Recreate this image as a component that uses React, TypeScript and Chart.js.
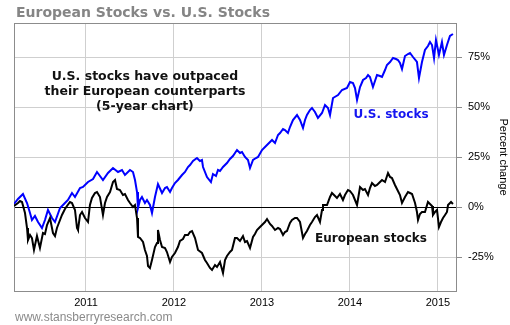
import React, { useEffect, useRef } from "react";
import { Chart, registerables } from "chart.js";

Chart.register(...registerables);

const chartTitle = "European Stocks vs. U.S. Stocks";
const noteLines = ["U.S. stocks have outpaced", "their European counterparts", "(5-year chart)"];
const sourceText = "www.stansberryresearch.com";
const yAxisTitle = "Percent change";
const yearTicks = [2011, 2012, 2013, 2014, 2015];
const pctTicks = [-25, 0, 25, 50, 75];

const usYears = [
  2010.182, 2010.227, 2010.284, 2010.33, 2010.364, 2010.386, 2010.42, 2010.455, 2010.5, 2010.534,
  2010.568, 2010.614, 2010.648, 2010.705, 2010.761, 2010.795, 2010.841, 2010.875, 2010.932, 2010.966,
  2011.023, 2011.08, 2011.125, 2011.159, 2011.193, 2011.25, 2011.307, 2011.364, 2011.409, 2011.443,
  2011.5, 2011.534, 2011.557, 2011.58, 2011.591, 2011.614, 2011.636, 2011.67, 2011.693, 2011.727,
  2011.75, 2011.784, 2011.818, 2011.864, 2011.898, 2011.92, 2011.955, 2011.977, 2012.011, 2012.045,
  2012.091, 2012.125, 2012.159, 2012.182, 2012.216, 2012.261, 2012.295, 2012.318, 2012.33, 2012.375,
  2012.42, 2012.443, 2012.477, 2012.5, 2012.523, 2012.557, 2012.602, 2012.636, 2012.67, 2012.716,
  2012.75, 2012.773, 2012.807, 2012.841, 2012.864, 2012.898, 2012.932, 2012.955, 2013.0, 2013.057,
  2013.091, 2013.114, 2013.148, 2013.182, 2013.205, 2013.239, 2013.261, 2013.295, 2013.318, 2013.352,
  2013.398, 2013.432, 2013.466, 2013.489, 2013.511, 2013.545, 2013.568, 2013.602, 2013.636, 2013.682,
  2013.716, 2013.75, 2013.773, 2013.807, 2013.864, 2013.909, 2013.966, 2014.0, 2014.034, 2014.057,
  2014.08, 2014.114, 2014.148, 2014.182, 2014.205, 2014.227, 2014.261, 2014.307, 2014.341, 2014.364,
  2014.398, 2014.42, 2014.455, 2014.489, 2014.523, 2014.545, 2014.568, 2014.591, 2014.625, 2014.659,
  2014.682, 2014.716, 2014.761, 2014.784, 2014.818, 2014.852, 2014.886, 2014.909, 2014.932, 2014.955,
  2014.977, 2015.0, 2015.011, 2015.045, 2015.068, 2015.102, 2015.136, 2015.17,
];
const usValues = [
  1.5, 4, 6.5, 2, -3, -6.5, -4.5, -7.5, -10.5, -6.5,
  -1.5, -5.5, -7.5, -0.5, 2, 3.5, 7, 5, 9.5, 10,
  12.5, 14, 17.5, 15.5, 13.5, 17, 19.5, 17.5, 18.5, 16,
  18.5, 17.5, 13.5, 7.5, -0.5, 3.5, 5, 2, 3.5, 1,
  -3, 5, 11.5, 7, 9.5, 10, 7.5, 9.5, 12, 13.5,
  16, 17.5, 20, 21, 23, 24.5, 23, 23.5, 20, 15,
  12.5, 16.5, 15.5, 18.5, 18, 20, 22, 24, 25.5, 28.5,
  27, 27.5, 25, 23.5, 19.5, 23.5, 24.5, 25, 28.5, 31,
  32.5, 33.5, 32, 36, 37, 39, 38.5, 37, 40, 43.5,
  46, 43.5, 39.5, 43.5, 46, 48.5, 49.5, 47.5, 44.5, 47,
  51, 49.5, 46, 54.5, 56, 58.5, 59.5, 62.5, 62, 59.5,
  53.5, 60, 63.5, 64.5, 66, 65, 60, 66, 65.5, 65,
  68.5, 71, 72.5, 74.5, 74, 73.5, 72, 69, 75.5, 76.5,
  77, 75, 72.5, 64.5, 72.5, 78.5, 80.5, 82.5, 81, 74.5,
  83.5, 78.5, 76, 82.5, 76, 81, 85.5, 86.5,
];

const euYears = [
  2010.182, 2010.227, 2010.25, 2010.273, 2010.307, 2010.33, 2010.341, 2010.364, 2010.386, 2010.409,
  2010.443, 2010.477, 2010.511, 2010.534, 2010.557, 2010.591, 2010.625, 2010.648, 2010.67, 2010.705,
  2010.727, 2010.761, 2010.784, 2010.818, 2010.841, 2010.875, 2010.898, 2010.909, 2010.932, 2010.955,
  2010.989, 2011.023, 2011.045, 2011.068, 2011.102, 2011.125, 2011.159, 2011.193, 2011.216, 2011.239,
  2011.273, 2011.307, 2011.33, 2011.352, 2011.386, 2011.42, 2011.443, 2011.477, 2011.5, 2011.534,
  2011.557, 2011.58, 2011.591, 2011.614, 2011.648, 2011.67, 2011.693, 2011.705, 2011.727, 2011.75,
  2011.784, 2011.807, 2011.818, 2011.841, 2011.864, 2011.898, 2011.92, 2011.955, 2011.977, 2012.011,
  2012.045, 2012.068, 2012.102, 2012.125, 2012.159, 2012.182, 2012.205, 2012.239, 2012.273, 2012.318,
  2012.352, 2012.375, 2012.409, 2012.432, 2012.466, 2012.489, 2012.523, 2012.557, 2012.58, 2012.602,
  2012.636, 2012.659, 2012.693, 2012.716, 2012.75, 2012.784, 2012.807, 2012.83, 2012.864, 2012.898,
  2012.92, 2012.943, 2012.977, 2013.0, 2013.034, 2013.057, 2013.091, 2013.114, 2013.148, 2013.182,
  2013.205, 2013.239, 2013.261, 2013.284, 2013.318, 2013.341, 2013.375, 2013.398, 2013.432, 2013.466,
  2013.489, 2013.511, 2013.545, 2013.568, 2013.602, 2013.625, 2013.659, 2013.682, 2013.693, 2013.739,
  2013.773, 2013.795, 2013.83, 2013.852, 2013.886, 2013.92, 2013.943, 2013.977, 2014.0, 2014.034,
  2014.057, 2014.08, 2014.114, 2014.148, 2014.17, 2014.205, 2014.227, 2014.25, 2014.284, 2014.307,
  2014.341, 2014.364, 2014.398, 2014.432, 2014.455, 2014.477, 2014.511, 2014.545, 2014.568, 2014.591,
  2014.625, 2014.659, 2014.682, 2014.705, 2014.739, 2014.761, 2014.773, 2014.795, 2014.818, 2014.852,
  2014.886, 2014.909, 2014.932, 2014.943, 2014.966, 2014.989, 2015.011, 2015.034, 2015.057, 2015.08,
  2015.102, 2015.114, 2015.148, 2015.17,
];
const euValues = [
  0.5, 2, 3, 2.5, -3, -10.5, -16.5, -14, -15.5, -21.5,
  -14.5, -20.5, -13, -13.5, -9, -5.5, -13, -14.5, -10.5, -6.5,
  -4, -1, 0.5, 2.5, 2, -1.5, -10.5, -11.5, -4, -2.5,
  -5.5, -7.5, 1, 4.5, 7, 7.5, 5, -4, 2, 5,
  7.5, 12.5, 13.5, 9, 8.5, 6, 6.5, 3.5, 2, 0,
  1, -5.5, -15, -15.5, -17.5, -21.5, -24.5, -29.5, -30.5, -26.5,
  -20, -18, -11.5, -16.5, -20, -20.5, -22.5, -27.5, -25, -23,
  -20, -17, -16, -14, -14, -12.5, -12, -15.5, -21.5, -23,
  -26.5, -28, -30.5, -31.5, -29, -30, -27.5, -33, -26.5, -24.5,
  -22.5, -21.5, -15.5, -15.5, -17, -14.5, -17.5, -17, -20.5, -15,
  -13.5, -11.5, -10, -9, -7.5, -6, -8.5, -9.5, -11.5, -10.5,
  -11, -14, -12.5, -12, -8, -6.5, -5.5, -5.5, -7.5, -15.5,
  -13.5, -12, -9, -7.5, -5, -4, -7.5, -1.5, 1, 1,
  5, 7, 5.5, 4.5, 6.5, 3.5, 6, 8.5, 8, 6,
  3.5, 1, 10, 8.5, 9, 6, 9.5, 12, 10.5, 11,
  12.5, 13.5, 12.5, 17, 15, 14.5, 11, 8, 6, 2,
  5, 7.5, 7, 6.5, 2, -2.5, -6.5, -3.5, -2.5, -2.5,
  2.5, 1.5, 0.5, -4, -2.5, -1.5, -10, -7.5, -5.5, -4,
  -2.5, 1, 2.5, 1.5,
];

const usLabel = { text: "U.S. stocks", year: 2014.466, value: 46 };
const euLabel = { text: "European stocks", year: 2014.239, value: -16 };
const noteAnchor = { year: 2011.67, value: 65 };

const X_MIN = 2010.182;
const X_MAX = 2015.216;
const Y_MIN = -42;
const Y_MAX = 92;

const textPlugin = {
  id: "texts",
  beforeDatasetsDraw(chart: any) {
    const { ctx, chartArea } = chart;
    ctx.save();
    ctx.strokeStyle = "#8c8c8c";
    ctx.lineWidth = 1;
    ctx.strokeRect(
      Math.round(chartArea.left) + 0.5,
      Math.round(chartArea.top) + 0.5,
      Math.round(chartArea.right - chartArea.left) - 1,
      Math.round(chartArea.bottom - chartArea.top)
    );
    ctx.restore();
  },
  afterDraw(chart: any) {
    const { ctx } = chart;
    const xs = chart.scales.x;
    const ys = chart.scales.y;
    ctx.save();
    ctx.textBaseline = "alphabetic";
    ctx.textAlign = "left";
    ctx.fillStyle = "#858585";
    ctx.font = "bold 14px 'DejaVu Sans'";
    ctx.fillText(chartTitle, 16, 17);
    ctx.font = "12px 'Liberation Sans'";
    ctx.fillStyle = "#8a8a8a";
    ctx.fillText(sourceText, 15, 321);

    ctx.textAlign = "center";
    ctx.textBaseline = "middle";
    ctx.font = "bold 12.5px 'DejaVu Sans'";
    ctx.fillStyle = "#111";
    const nx = xs.getPixelForValue(noteAnchor.year);
    const ny = ys.getPixelForValue(noteAnchor.value);
    noteLines.forEach((l, i) => ctx.fillText(l, nx, ny + i * 15));

    ctx.font = "bold 12px 'DejaVu Sans'";
    ctx.fillStyle = "#1515f0";
    ctx.fillText(usLabel.text, xs.getPixelForValue(usLabel.year), ys.getPixelForValue(usLabel.value));
    ctx.fillStyle = "#111";
    ctx.fillText(euLabel.text, xs.getPixelForValue(euLabel.year), ys.getPixelForValue(euLabel.value));
    ctx.restore();
  },
};

export default function App() {
  const ref = useRef<HTMLCanvasElement>(null);
  useEffect(() => {
    if (!ref.current) return;
    const chart = new Chart(ref.current, {
      type: "line",
      data: {
        datasets: [
          {
            label: "European stocks",
            data: euYears.map((x, i) => ({ x, y: euValues[i] })),
            borderColor: "#000",
            borderWidth: 2,
            pointRadius: 0,
            tension: 0,
          },
          {
            label: "U.S. stocks",
            data: usYears.map((x, i) => ({ x, y: usValues[i] })),
            borderColor: "#0000ff",
            borderWidth: 2,
            pointRadius: 0,
            tension: 0,
          },
        ],
      },
      options: {
        animation: false,
        responsive: false,
        devicePixelRatio: 1,
        layout: { padding: { left: 14, top: 23, right: 0, bottom: 0 } },
        plugins: { legend: { display: false }, tooltip: { enabled: false }, title: { display: false } },
        scales: {
          x: {
            type: "linear",
            min: X_MIN,
            max: X_MAX,
            afterBuildTicks: (s: any) => {
              s.ticks = yearTicks.map((v) => ({ value: v }));
            },
            afterFit: (s: any) => {
              s.height = 34;
            },
            border: { display: false },
            grid: { color: "#cfcfcf", lineWidth: 1, drawTicks: false },
            ticks: {
              padding: 5,
              maxRotation: 0,
              color: "#000",
              font: { family: "'Liberation Sans'", size: 11 },
              callback: (v: any) => String(v),
            },
          },
          y: {
            position: "right",
            min: Y_MIN,
            max: Y_MAX,
            afterBuildTicks: (s: any) => {
              s.ticks = pctTicks.map((v) => ({ value: v }));
            },
            afterFit: (s: any) => {
              s.width = 53;
            },
            border: { display: false },
            grid: {
              color: (c: any) => (c.tick && c.tick.value === 0 ? "#000" : "#cfcfcf"),
              tickColor: "#8c8c8c",
              tickLength: 5,
              lineWidth: 1,
            },
            ticks: {
              padding: 6,
              color: "#000",
              font: { family: "'Liberation Sans'", size: 11 },
              callback: (v: any) => v + "%",
            },
            title: {
              display: true,
              text: yAxisTitle,
              color: "#000",
              padding: 0,
              font: { family: "'Liberation Sans'", size: 11 },
            },
          },
        },
      },
      plugins: [textPlugin],
    });
    return () => chart.destroy();
  }, []);
  return (
    <div style={{ position: "fixed", left: 0, top: 0, width: 510, height: 325, background: "#fff" }}>
      <canvas ref={ref} width={510} height={325} style={{ width: 510, height: 325, display: "block" }} />
    </div>
  );
}
